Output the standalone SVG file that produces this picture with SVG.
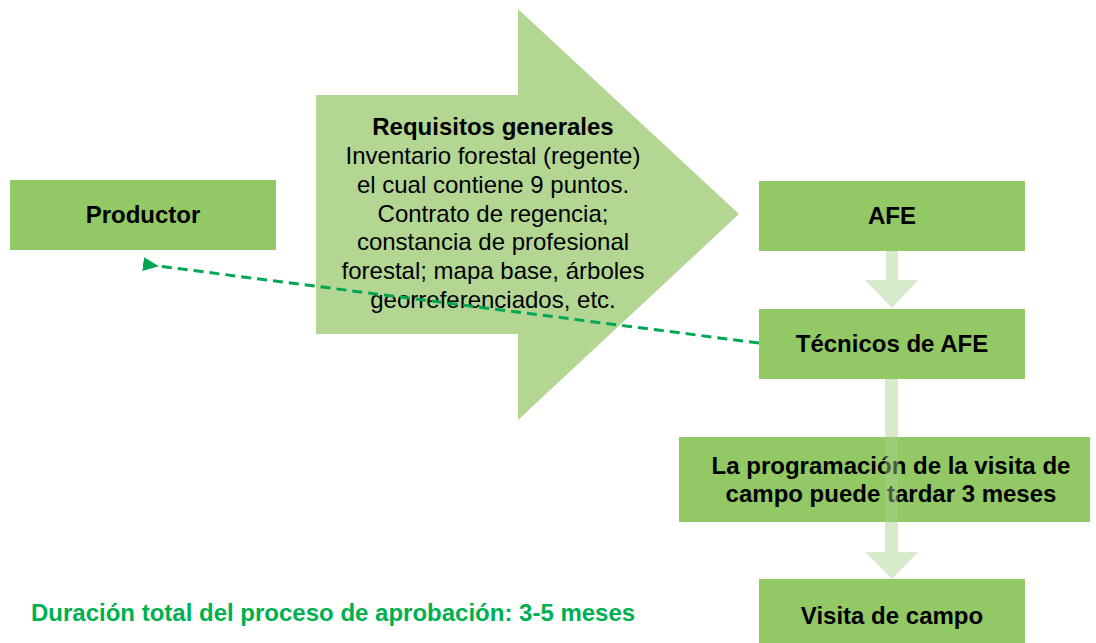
<svg xmlns="http://www.w3.org/2000/svg" width="1096" height="643" viewBox="0 0 1096 643">
<defs>
<style>
.box{fill:#92c964}
.t{font-family:"Liberation Sans",Arial,sans-serif;font-size:24px;fill:#000;text-anchor:middle}
.b{font-weight:bold}
.down{fill:#a9d18e;fill-opacity:0.45}
</style>
<marker id="ah" markerWidth="16" markerHeight="14" refX="1" refY="7" orient="auto" markerUnits="userSpaceOnUse" viewBox="0 0 16 14">
<path d="M16,0 L0,7 L16,14 Z" fill="#00a651"/>
</marker>
</defs>
<rect width="1096" height="643" fill="#fff"/>
<g id="requisitos">
<polygon points="316,95 518,95 518,9 739,214 518,420 518,334 316,334" fill="#b3d793"/>
<text class="t" x="493" y="135"><tspan class="b">Requisitos generales</tspan></text>
<text class="t" x="493" y="164">Inventario forestal (regente)</text>
<text class="t" x="493" y="192.5">el cual contiene 9 puntos.</text>
<text class="t" x="493" y="221.5">Contrato de regencia;</text>
<text class="t" x="493" y="250">constancia de profesional</text>
<text class="t" x="493" y="279">forestal; mapa base, árboles</text>
<text class="t" x="493" y="308">georreferenciados, etc.</text>
</g>
<g id="productor">
<rect class="box" x="10" y="180" width="266" height="70"/>
<text class="t b" x="143" y="223">Productor</text>
</g>
<g id="afe">
<rect class="box" x="759" y="181" width="266" height="70"/>
<text class="t b" x="892" y="224">AFE</text>
</g>
<g id="tecnicos">
<rect class="box" x="759" y="309" width="266" height="70"/>
<text class="t b" x="892" y="352">Técnicos de AFE</text>
</g>
<g id="programacion">
<rect class="box" x="679" y="437" width="411" height="85"/>
<text class="t b" x="891" y="474">La programación de la visita de</text>
<text class="t b" x="891" y="502">campo puede tardar 3 meses</text>
</g>
<g id="visita">
<rect class="box" x="759" y="579" width="266" height="70"/>
<text class="t b" x="892" y="624">Visita de campo</text>
</g>
<g id="connectors">
<polygon class="down" points="886,251 898,251 898,280 918,280 892,308 865,280 886,280"/>
<polygon class="down" points="885,379 898,379 898,552 918,552 892,579 865,552 885,552"/>
<line x1="759" y1="343" x2="158" y2="266" stroke="#00a651" stroke-width="3" stroke-dasharray="10,6" marker-end="url(#ah)"/>
</g>
<text id="duracion" x="31" y="621" font-family="Liberation Sans,Arial,sans-serif" font-size="24" font-weight="bold" fill="#00b050">Duración total del proceso de aprobación: 3-5 meses</text>
</svg>
